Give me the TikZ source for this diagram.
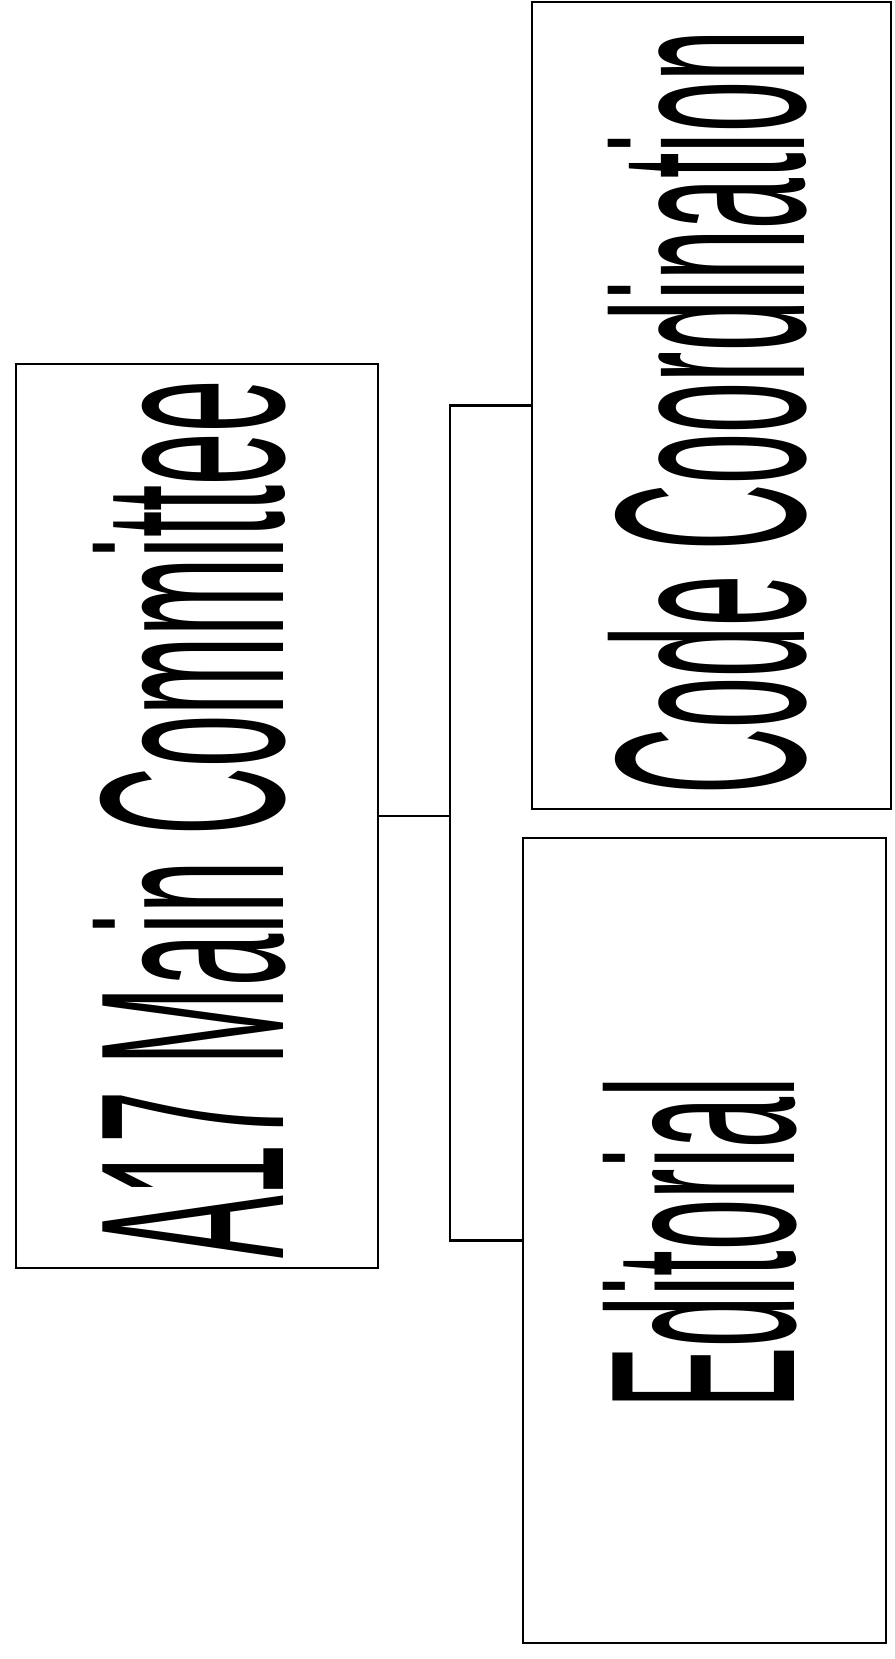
\documentclass[tikz,border=0pt]{standalone}
\usepackage{fontspec}
\setmainfont{Liberation Sans}
\usepackage{graphicx}
\begin{document}
\begin{tikzpicture}[x=1pt,y=-1pt,
  box/.style={draw, line width=2.5pt, rectangle, inner sep=0pt},
  lbl/.style={rotate=90, anchor=base west, inner sep=0pt},
  conn/.style={line width=2.5pt}]
\useasboundingbox (0,0) rectangle (894,1659);
\node[box, minimum width=362pt, minimum height=904pt] (main) at (197,816) {};
\node[box, minimum width=359pt, minimum height=807pt] (code) at (711.5,405.5) {};
\node[box, minimum width=363pt, minimum height=805pt] (edit) at (704.5,1240.5) {};
\node[lbl] (mainlbl) at (283,1259) {\resizebox{878pt}{190pt}{A17 Main Committee}};
\node[lbl] (codelbl) at (804,795) {\resizebox{764pt}{196pt}{Code Coordination}};
\node[lbl] (editlbl) at (794,1409) {\resizebox{332pt}{191pt}{Editorial}};
\coordinate (j) at (450,816);
\draw[conn] (main.east) -- (main.east -| j);
\draw[conn] (code.west) -- (code.west -| j) -- (edit.west -| j) -- (edit.west);
\end{tikzpicture}
\end{document}
